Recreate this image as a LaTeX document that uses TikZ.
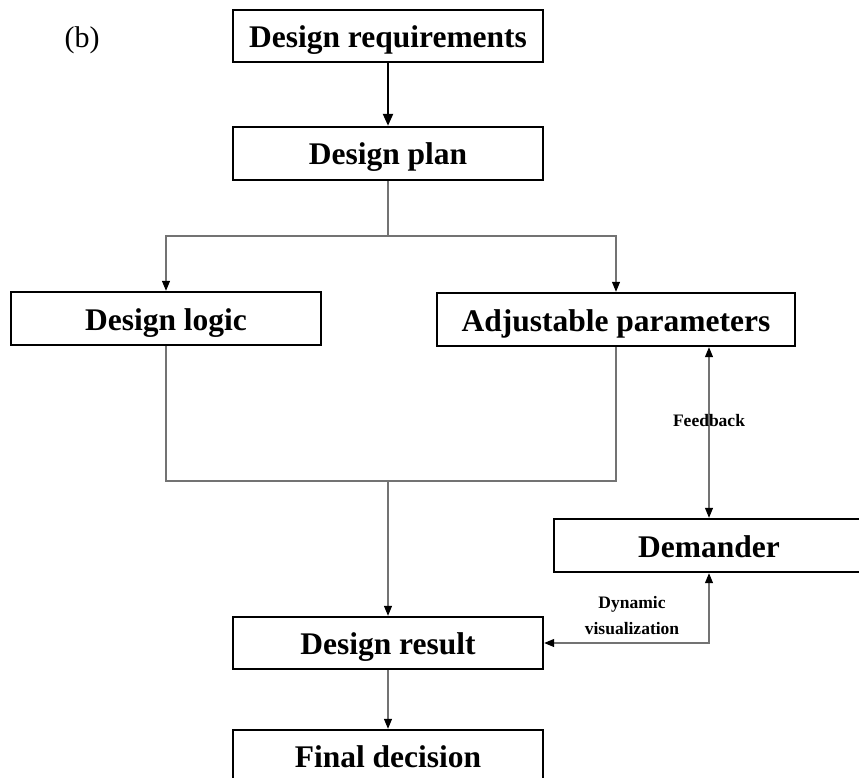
\documentclass[tikz,border=0pt]{standalone}
\usepackage{fontspec}
\setmainfont{Liberation Serif}
\usetikzlibrary{arrows.meta,calc}
\begin{document}
\begin{tikzpicture}[x=1pt,y=-1pt,
  box/.style={draw=black,line width=2.4pt,minimum width=310pt,minimum height=52pt,
    inner sep=0pt,text height=23pt,text depth=0pt,
    font=\fontsize{31.5}{36}\selectfont\bfseries,text=black},
  tipk/.tip={Triangle[length=10pt,width=8pt,color=black]},
  tipbig/.tip={Triangle[length=12pt,width=10pt,color=black]},
  link/.style={draw=black!55,line width=1.1pt},
  smalllabel/.style={font=\fontsize{17.5}{26}\selectfont\bfseries,align=center,inner sep=0pt}
]
  \fill[white] (0,0) rectangle (859,778);
  \useasboundingbox (0,0) rectangle (859,778);

  % panel tag
  \node[font=\fontsize{30}{34}\selectfont,inner sep=0pt] (tag) at (82,40) {(b)};

  % boxes
  \node[box] (req)  at (388,36)    {Design requirements};
  \node[box,minimum height=53pt] (plan) at (388,153.5) {Design plan};
  \node[box,minimum height=53pt] (logic) at (166,318.5) {Design logic};
  \node[box,minimum width=358pt,minimum height=53pt] (param) at (616,319.5) {Adjustable parameters};
  \node[box,minimum height=53pt] (dem) at (709,545.5) {Demander};
  \node[box] (res)  at (388,643)   {Design result};
  \node[box] (fin)  at (388,756)   {Final decision};

  % routing points
  \coordinate (split) at (388,236);
  \coordinate (splitL) at (166,236);
  \coordinate (splitR) at (616,236);
  \coordinate (joinL) at (166,481);
  \coordinate (joinR) at (616,481);
  \coordinate (join) at (388,481);
  \coordinate (fbTop) at (709,0);
  \coordinate (dynCorner) at (709,643);

  % requirements to plan
  \draw[line width=2.2pt,-tipbig] (req.south) -- (plan.north);

  % plan branches into logic and parameters
  \draw[link] (plan.south) -- (split);
  \draw[link,-tipk] (split) -- (splitL) -- (logic.north);
  \draw[link,-tipk] (split) -- (splitR) -- (param.north);

  % logic and parameters merge into the result
  \draw[link] (logic.south) -- (joinL) -- (joinR) -- (param.south);
  \draw[link,-tipk] (join) -- (res.north);

  % feedback loop with the demander
  \draw[link,tipk-tipk] (param.south -| fbTop) -- (dem.north -| fbTop);
  \node[smalllabel] (fb) at (709,421) {Feedback};

  % dynamic visualization between result and demander
  \draw[link,tipk-tipk] (dem.south -| dynCorner) -- (dynCorner) -- (res.east);
  \node[smalllabel] (dyn) at (632,616) {Dynamic\\visualization};

  % result to final decision
  \draw[link,-tipk] (res.south) -- (fin.north);
\end{tikzpicture}
\end{document}
